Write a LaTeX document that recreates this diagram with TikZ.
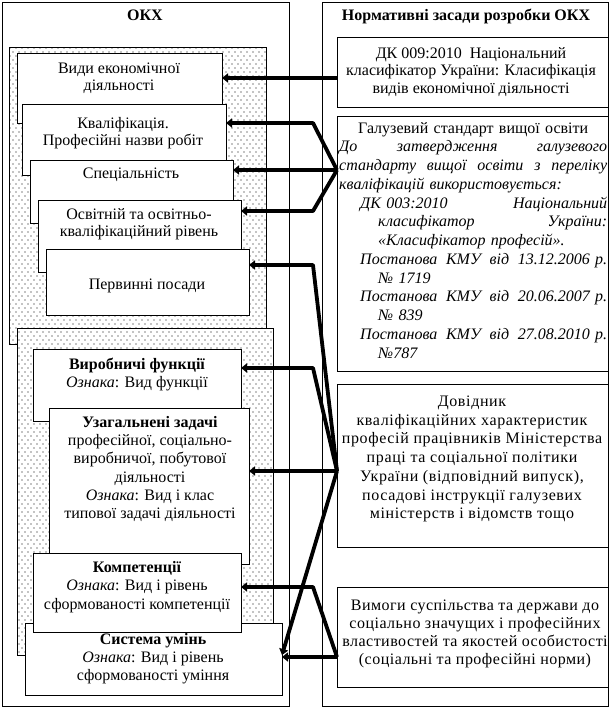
\documentclass[tikz,border=0pt]{standalone}
\usepackage{fontspec}
\setmainfont{Liberation Serif}
\newfontfamily\spacedfont[LetterSpace=4]{Liberation Serif}
\newfontfamily\spacedfontb[LetterSpace=3]{Liberation Serif}
\usetikzlibrary{arrows.meta,patterns}
\pgfdeclarepatternformonly{sdots}{\pgfqpoint{-1pt}{-1pt}}{\pgfqpoint{7pt}{9pt}}{\pgfqpoint{6pt}{8pt}}{%
  \pgfpathcircle{\pgfqpoint{1pt}{1pt}}{0.55pt}%
  \pgfpathcircle{\pgfqpoint{4pt}{5pt}}{0.55pt}%
  \pgfusepath{fill}}
\newcommand\fs{\fontsize{16}{18.3}\selectfont}
\newcommand\jline[2]{\noindent\hspace*{#1}\hbox to \dimexpr268pt-#1\relax{#2}\par}
\newcommand\lline[2]{\noindent\hspace*{#1}#2\par}
\tikzset{
  frame/.style={draw, line width=0.8pt, fill=white, anchor=north west, inner sep=0pt, outer sep=0pt},
  dotreg/.style={draw, line width=0.8pt, fill=white, postaction={pattern=sdots}, anchor=north west, inner sep=0pt, outer sep=0pt},
  txt/.style={align=center, inner sep=0pt, font=\fs},
  arr/.style={line width=3.8pt, line join=round, -{Triangle[length=6pt,width=9pt]}},
}
\begin{document}
\begin{tikzpicture}[x=1pt,y=-1pt]
\useasboundingbox (0,0) rectangle (610,709);
% outer frames
\node[frame, minimum width=287pt, minimum height=704pt] (OKX) at (2,2) {};
\node[frame, minimum width=286pt, minimum height=704pt] (NZ) at (322,2) {};
\node[txt, font=\fs\bfseries] (tOKX) at (145,15) {ОКХ};
\node[txt, font=\fs\bfseries] (tNZ) at (466,16) {Нормативні засади розробки ОКХ};
% right boxes
\node[frame, minimum width=271pt, minimum height=70pt] (R1) at (337,37) {};
\node[frame, minimum width=271pt, minimum height=255pt] (R2) at (337,116) {};
\node[frame, minimum width=271pt, minimum height=163pt] (R3) at (337,384) {};
\node[frame, minimum width=271pt, minimum height=100pt] (R4) at (337,587) {};
\node[txt, font=\fontsize{16}{17.3}\selectfont] (tR1) at (471,72) {ДК 009:2010\ \ Національний\\класифікатор України: Класифікація\\видів економічної діяльності};
\node[anchor=base west, inner sep=0pt, text width=268pt, font=\fs] (tR2) at (339,133) {%
\baselineskip=18.75pt
\noindent\hbox to 268pt{\hfil Галузевий стандарт вищої освіти\hfil}\par
\itshape
\jline{0pt}{До\hfill затвердження\hfill галузевого}
\jline{0pt}{стандарту\hfill вищої\hfill освіти\hfill з\hfill переліку}
\lline{0pt}{кваліфікацій використовується:}
\jline{21pt}{ДК 003:2010\hfill Національний}
\jline{39pt}{класифікатор\hfill України:}
\lline{39pt}{«Класифікатор професій».}
\jline{21pt}{Постанова\hfill КМУ\hfill від\hfill 13.12.2006 р.}
\lline{39pt}{№ 1719}
\jline{21pt}{Постанова\hfill КМУ\hfill від\hfill 20.06.2007 р.}
\lline{39pt}{№ 839}
\jline{21pt}{Постанова\hfill КМУ\hfill від\hfill 27.08.2010 р.}
\lline{39pt}{№787}};
\node[txt, font=\fontsize{16}{18.7}\selectfont\spacedfont] (tR3) at (472,459) {Довідник\\кваліфікаційних характеристик\\професій працівників Міністерства\\праці та соціальної політики\\України (відповідний випуск),\\посадові інструкції галузевих\\міністерств і відомств тощо};
\node[txt, font=\fontsize{16}{18}\selectfont\spacedfontb] (tR4) at (475,634) {Вимоги суспільства та держави до\\соціально значущих і професійних\\властивостей та якостей особистості\\(соціальні та професійні норми)};
% left dotted regions
\node[dotreg, minimum width=257pt, minimum height=297pt] (REG1) at (9,47) {};
\node[dotreg, minimum width=256pt, minimum height=327pt] (REG2) at (17,328) {};
% stacked boxes, first group
\node[frame, minimum width=205pt, minimum height=70pt] (A) at (17,53) {};
\node[txt, font=\fontsize{16}{17.3}\selectfont] (tA) at (119,78.5) {Види економічної\\діяльності};
\node[frame, minimum width=204pt, minimum height=71pt] (B) at (22,104) {};
\node[txt, font=\fontsize{16}{17.3}\selectfont] (tB) at (123,133.5) {Кваліфікація.\\Професійні назви робіт};
\node[frame, minimum width=203pt, minimum height=63pt] (C) at (30,160) {};
\node[txt] (tC) at (131,175) {Спеціальність};
\node[frame, minimum width=203pt, minimum height=72pt] (D) at (38,200) {};
\node[txt, font=\fontsize{16}{17.3}\selectfont] (tD) at (139,224.5) {Освітній та освітньо-\\кваліфікаційний рівень};
\node[frame, minimum width=203pt, minimum height=66pt] (E) at (46,249) {};
\node[txt] (tE) at (147,286) {Первинні посади};
% second group
\node[frame, minimum width=208pt, minimum height=72pt] (F) at (33,349) {};
\node[txt] (tF) at (137,374.5) {\textbf{Виробничі функції}\\\textit{Ознака}: Вид функції};
\node[frame, minimum width=200pt, minimum height=156pt] (G) at (49,408) {};
\node[txt] (tG) at (150,469) {\textbf{Узагальнені задачі}\\професійної, соціально-\\виробничої, побутової\\діяльності\\\textit{Ознака}: Вид і клас\\типової задачі діяльності};
\node[frame, minimum width=257pt, minimum height=72pt] (I) at (25,623) {};
\node[txt] (tI) at (153,658.5) {\textbf{Система умінь}\\\textit{Ознака}: Вид і рівень\\сформованості уміння};
\node[frame, minimum width=208pt, minimum height=79pt] (H) at (33,553) {};
\node[txt] (tH) at (137,587) {\textbf{Компетенції}\\\textit{Ознака}: Вид і рівень\\сформованості компетенції};
% hubs
\coordinate (h1) at (R1.west |- 0,78);
\coordinate (h2) at (R2.west |- 0,170);
\coordinate (h3) at (R3.west |- 0,471);
\coordinate (h4) at (R4.west |- 0,657);
% connectors
\draw[arr] (h1) -- (A.east |- h1);
\draw[arr] (h2) -- (313,123) -- (B.east |- 0,123);
\draw[arr] (h2) -- (C.east |- h2);
\draw[arr] (h2) -- (313,211) -- (D.east |- 0,211);
\draw[arr] (h3) -- (313,265) -- (E.east |- 0,265);
\draw[arr] (h3) -- (313,368) -- (F.east |- 0,368);
\draw[arr] (h3) -- (G.east |- h3);
\draw[arr] (h3) -- (I.east |- 0,655);
\draw[arr] (h4) -- (313,587) -- (H.east |- 0,587);
\draw[arr] (h4) -- (I.east |- h4);
\end{tikzpicture}
\end{document}
